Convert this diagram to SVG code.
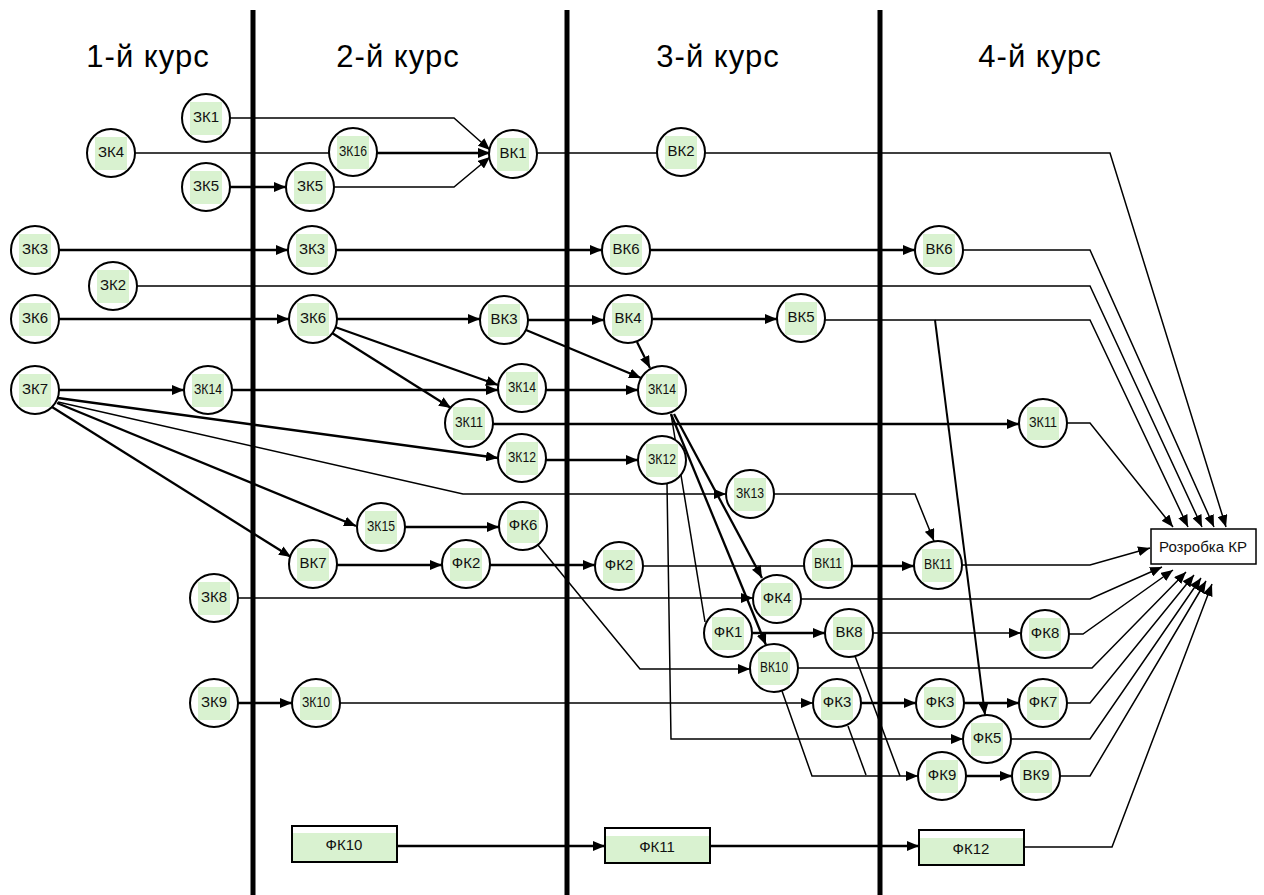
<svg xmlns="http://www.w3.org/2000/svg" width="1264" height="895" viewBox="0 0 1264 895">
<defs>
<marker id="ah" markerUnits="userSpaceOnUse" markerWidth="12" markerHeight="10" refX="12" refY="5" orient="auto">
<path d="M0,0 L12,5 L0,10 z" fill="#000"/>
</marker>
<style>
.bg{fill:#fff}
.sep{stroke:#000;stroke-width:5}
.hdr{font-family:"Liberation Sans",Arial,sans-serif;font-size:31px;letter-spacing:1px;text-anchor:middle;fill:#000}
.e{fill:none;stroke:#000;stroke-width:1.5}
.t{stroke-width:2.3}
.a{marker-end:url(#ah)}
.nd circle{fill:#fff;stroke:#000;stroke-width:2}
.nd rect{fill:#d9f2d0}
.nd text{font-family:"Liberation Sans",Arial,sans-serif;font-size:15px;text-anchor:middle;fill:#111}
.bx .fr{fill:#fff;stroke:#000;stroke-width:2}
.bx .gr{fill:#d9f2d0}
.bx text{font-family:"Liberation Sans",Arial,sans-serif;font-size:15px;text-anchor:middle;fill:#111}
.kr rect{fill:#fff;stroke:#000;stroke-width:1.5}
.kr text{font-family:"Liberation Sans",Arial,sans-serif;font-size:15px;text-anchor:middle;fill:#111}
</style>
</defs>
<rect class="bg" x="0" y="0" width="1264" height="895"/>

<!-- year columns -->
<g id="columns">
<line class="sep" x1="253" y1="10" x2="253" y2="895"/>
<line class="sep" x1="567" y1="10" x2="567" y2="895"/>
<line class="sep" x1="880" y1="10" x2="880" y2="895"/>
<text class="hdr" x="148" y="67">1-й курс</text>
<text class="hdr" x="398" y="67">2-й курс</text>
<text class="hdr" x="718" y="67">3-й курс</text>
<text class="hdr" x="1040" y="67">4-й курс</text>
</g>

<g id="connectors">
<polyline class="e a" points="230,118 454,118 490,150"/>
<line class="e" x1="135" y1="153" x2="329" y2="153"/>
<line class="e t a" x1="377" y1="153" x2="490" y2="153"/>
<line class="e t a" x1="230" y1="187" x2="286" y2="187"/>
<polyline class="e a" points="334,187 454,187 490,157"/>
<line class="e" x1="537" y1="153" x2="657" y2="153"/>
<polyline class="e a" points="705,153 1110,153 1226,527"/>

<line class="e t a" x1="59" y1="250" x2="288" y2="250"/>
<line class="e t a" x1="336" y1="250" x2="602" y2="250"/>
<line class="e t a" x1="650" y1="250" x2="915" y2="250"/>
<polyline class="e a" points="963,250 1090,250 1214,527"/>
<polyline class="e a" points="137,286 1090,286 1202,527"/>

<line class="e t a" x1="59" y1="319" x2="289" y2="319"/>
<line class="e t a" x1="337" y1="319" x2="480" y2="319"/>
<line class="e t a" x1="335" y1="327" x2="498" y2="385"/>
<line class="e t a" x1="332" y1="333" x2="451" y2="408"/>
<line class="e t a" x1="528" y1="320" x2="604" y2="320"/>
<line class="e t a" x1="526" y1="330" x2="641" y2="378"/>
<line class="e t a" x1="637" y1="342" x2="650" y2="368"/>
<line class="e t a" x1="652" y1="319" x2="777" y2="319"/>
<polyline class="e a" points="825,320 1090,320 1188,527"/>
<line class="e a" x1="935" y1="320" x2="985" y2="715" style="stroke-width:2"/>

<line class="e t a" x1="59" y1="390" x2="184" y2="390"/>
<line class="e t a" x1="232" y1="390" x2="498" y2="390"/>
<line class="e t a" x1="546" y1="390" x2="638" y2="390"/>
<line class="e t a" x1="493" y1="424" x2="1019" y2="424"/>
<polyline class="e a" points="1067,423 1090,423 1173,527"/>

<line class="e t a" x1="58" y1="398" x2="498" y2="458"/>
<polyline class="e a" points="58,402 463,494 726,494"/>
<line class="e t a" x1="57" y1="403" x2="356" y2="526"/>
<line class="e t a" x1="52" y1="407" x2="291" y2="557"/>
<line class="e t a" x1="546" y1="460" x2="638" y2="460"/>

<line class="e" x1="671" y1="414" x2="705" y2="622"/>
<line class="e t a" x1="674" y1="414" x2="762" y2="578"/>
<line class="e t a" x1="671" y1="414" x2="766" y2="645"/>
<polyline class="e a" points="667,484 671,739 963,739"/>
<polyline class="e a" points="774,494 915,494 934,541"/>

<line class="e t a" x1="405" y1="527" x2="499" y2="527"/>
<line class="e t a" x1="337" y1="565" x2="442" y2="565"/>
<line class="e t a" x1="490" y1="565" x2="595" y2="565"/>
<polyline class="e a" points="538,545 640,669 750,669"/>
<line class="e" x1="643" y1="566" x2="804" y2="566"/>
<line class="e t a" x1="852" y1="566" x2="914" y2="566"/>
<polyline class="e a" points="962,565 1090,565 1150,548"/>

<line class="e a" x1="238" y1="598" x2="753" y2="598"/>
<polyline class="e a" points="801,599 1090,599 1162,567"/>
<line class="e t a" x1="752" y1="633" x2="825" y2="633"/>
<line class="e a" x1="873" y1="633" x2="1021" y2="633"/>
<polyline class="e a" points="1069,634 1083,634 1173,570"/>
<polyline class="e a" points="798,668 1092,668 1186,572"/>

<polyline class="e" points="855,656 900,776"/>
<polyline class="e a" points="782,691 812,776 918,776"/>
<line class="e" x1="848" y1="726" x2="866" y2="775"/>

<line class="e t a" x1="238" y1="703" x2="292" y2="703"/>
<line class="e a" x1="340" y1="703" x2="813" y2="703"/>
<line class="e t a" x1="861" y1="703" x2="916" y2="703"/>
<line class="e t a" x1="964" y1="703" x2="1019" y2="703"/>
<polyline class="e a" points="1067,703 1090,703 1194,575"/>
<polyline class="e a" points="1011,739 1090,739 1201,578"/>
<line class="e t a" x1="966" y1="776" x2="1012" y2="776"/>
<polyline class="e a" points="1060,776 1090,776 1206,581"/>

<line class="e t a" x1="397" y1="846" x2="605" y2="846"/>
<line class="e t a" x1="710" y1="846" x2="919" y2="846"/>
<polyline class="e a" points="1024,847 1112,847 1212,584"/>
</g>

<!-- 1st year -->
<g id="zk1-1" class="nd"><circle cx="206" cy="118" r="24"/><rect x="190" y="102" width="32" height="33"/><text x="206" y="122">ЗК1</text></g>
<g id="zk4-1" class="nd"><circle cx="111" cy="153" r="24"/><rect x="95" y="137" width="32" height="33"/><text x="111" y="157">ЗК4</text></g>
<g id="zk5-1" class="nd"><circle cx="206" cy="187" r="24"/><rect x="190" y="171" width="32" height="33"/><text x="206" y="191">ЗК5</text></g>
<g id="zk3-1" class="nd"><circle cx="35" cy="250" r="24"/><rect x="19" y="234" width="32" height="33"/><text x="35" y="254">ЗК3</text></g>
<g id="zk2-1" class="nd"><circle cx="113" cy="286" r="24"/><rect x="97" y="270" width="32" height="33"/><text x="113" y="290">ЗК2</text></g>
<g id="zk6-1" class="nd"><circle cx="35" cy="319" r="24"/><rect x="19" y="303" width="32" height="33"/><text x="35" y="323">ЗК6</text></g>
<g id="zk7-1" class="nd"><circle cx="35" cy="390" r="24"/><rect x="19" y="374" width="32" height="33"/><text x="35" y="394">ЗК7</text></g>
<g id="zk14-1" class="nd"><circle cx="208" cy="390" r="24"/><rect x="192" y="374" width="32" height="33"/><text x="208" y="394" textLength="28" lengthAdjust="spacingAndGlyphs">ЗК14</text></g>
<g id="zk8-1" class="nd"><circle cx="214" cy="598" r="24"/><rect x="198" y="582" width="32" height="33"/><text x="214" y="602">ЗК8</text></g>
<g id="zk9-1" class="nd"><circle cx="214" cy="703" r="24"/><rect x="198" y="687" width="32" height="33"/><text x="214" y="707">ЗК9</text></g>

<!-- 2nd year -->
<g id="zk16-2" class="nd"><circle cx="353" cy="152" r="24"/><rect x="337" y="136" width="32" height="33"/><text x="353" y="156" textLength="28" lengthAdjust="spacingAndGlyphs">ЗК16</text></g>
<g id="zk5-2" class="nd"><circle cx="310" cy="187" r="24"/><rect x="294" y="171" width="32" height="33"/><text x="310" y="191">ЗК5</text></g>
<g id="vk1-2" class="nd"><circle cx="513" cy="154" r="24"/><rect x="497" y="138" width="32" height="33"/><text x="513" y="158">ВК1</text></g>
<g id="zk3-2" class="nd"><circle cx="312" cy="250" r="24"/><rect x="296" y="234" width="32" height="33"/><text x="312" y="254">ЗК3</text></g>
<g id="zk6-2" class="nd"><circle cx="313" cy="319" r="24"/><rect x="297" y="303" width="32" height="33"/><text x="313" y="323">ЗК6</text></g>
<g id="vk3-2" class="nd"><circle cx="504" cy="320" r="24"/><rect x="488" y="304" width="32" height="33"/><text x="504" y="324">ВК3</text></g>
<g id="zk14-2" class="nd"><circle cx="522" cy="388" r="24"/><rect x="506" y="372" width="32" height="33"/><text x="522" y="392" textLength="28" lengthAdjust="spacingAndGlyphs">ЗК14</text></g>
<g id="zk11-2" class="nd"><circle cx="469" cy="423" r="24"/><rect x="453" y="407" width="32" height="33"/><text x="469" y="427" textLength="28" lengthAdjust="spacingAndGlyphs">ЗК11</text></g>
<g id="zk12-2" class="nd"><circle cx="522" cy="458" r="24"/><rect x="506" y="442" width="32" height="33"/><text x="522" y="462" textLength="28" lengthAdjust="spacingAndGlyphs">ЗК12</text></g>
<g id="zk15-2" class="nd"><circle cx="381" cy="527" r="24"/><rect x="365" y="511" width="32" height="33"/><text x="381" y="531" textLength="28" lengthAdjust="spacingAndGlyphs">ЗК15</text></g>
<g id="fk6-2" class="nd"><circle cx="523" cy="526" r="24"/><rect x="507" y="510" width="32" height="33"/><text x="523" y="530">ФК6</text></g>
<g id="vk7-2" class="nd"><circle cx="313" cy="564" r="24"/><rect x="297" y="548" width="32" height="33"/><text x="313" y="568">ВК7</text></g>
<g id="fk2-2" class="nd"><circle cx="466" cy="564" r="24"/><rect x="450" y="548" width="32" height="33"/><text x="466" y="568">ФК2</text></g>
<g id="zk10-2" class="nd"><circle cx="316" cy="703" r="24"/><rect x="300" y="687" width="32" height="33"/><text x="316" y="707" textLength="28" lengthAdjust="spacingAndGlyphs">ЗК10</text></g>

<!-- 3rd year -->
<g id="vk2-3" class="nd"><circle cx="681" cy="152" r="24"/><rect x="665" y="136" width="32" height="33"/><text x="681" y="156">ВК2</text></g>
<g id="vk6-3" class="nd"><circle cx="626" cy="250" r="24"/><rect x="610" y="234" width="32" height="33"/><text x="626" y="254">ВК6</text></g>
<g id="vk4-3" class="nd"><circle cx="628" cy="319" r="24"/><rect x="612" y="303" width="32" height="33"/><text x="628" y="323">ВК4</text></g>
<g id="vk5-3" class="nd"><circle cx="801" cy="318" r="24"/><rect x="785" y="302" width="32" height="33"/><text x="801" y="322">ВК5</text></g>
<g id="zk14-3" class="nd"><circle cx="662" cy="390" r="24"/><rect x="646" y="374" width="32" height="33"/><text x="662" y="394" textLength="28" lengthAdjust="spacingAndGlyphs">ЗК14</text></g>
<g id="zk12-3" class="nd"><circle cx="662" cy="460" r="24"/><rect x="646" y="444" width="32" height="33"/><text x="662" y="464" textLength="28" lengthAdjust="spacingAndGlyphs">ЗК12</text></g>
<g id="zk13-3" class="nd"><circle cx="750" cy="494" r="24"/><rect x="734" y="478" width="32" height="33"/><text x="750" y="498" textLength="28" lengthAdjust="spacingAndGlyphs">ЗК13</text></g>
<g id="fk2-3" class="nd"><circle cx="619" cy="566" r="24"/><rect x="603" y="550" width="32" height="33"/><text x="619" y="570">ФК2</text></g>
<g id="vk11-3" class="nd"><circle cx="828" cy="564" r="24"/><rect x="812" y="548" width="32" height="33"/><text x="828" y="568" textLength="28" lengthAdjust="spacingAndGlyphs">ВК11</text></g>
<g id="fk4-3" class="nd"><circle cx="777" cy="599" r="24"/><rect x="761" y="583" width="32" height="33"/><text x="777" y="603">ФК4</text></g>
<g id="fk1-3" class="nd"><circle cx="728" cy="633" r="24"/><rect x="712" y="617" width="32" height="33"/><text x="728" y="637">ФК1</text></g>
<g id="vk8-3" class="nd"><circle cx="849" cy="633" r="24"/><rect x="833" y="617" width="32" height="33"/><text x="849" y="637">ВК8</text></g>
<g id="vk10-3" class="nd"><circle cx="774" cy="668" r="24"/><rect x="758" y="652" width="32" height="33"/><text x="774" y="672" textLength="28" lengthAdjust="spacingAndGlyphs">ВК10</text></g>
<g id="fk3-3" class="nd"><circle cx="837" cy="703" r="24"/><rect x="821" y="687" width="32" height="33"/><text x="837" y="707">ФК3</text></g>

<!-- 4th year -->
<g id="vk6-4" class="nd"><circle cx="939" cy="250" r="24"/><rect x="923" y="234" width="32" height="33"/><text x="939" y="254">ВК6</text></g>
<g id="zk11-4" class="nd"><circle cx="1043" cy="423" r="24"/><rect x="1027" y="407" width="32" height="33"/><text x="1043" y="427" textLength="28" lengthAdjust="spacingAndGlyphs">ЗК11</text></g>
<g id="vk11-4" class="nd"><circle cx="938" cy="565" r="24"/><rect x="922" y="549" width="32" height="33"/><text x="938" y="569" textLength="28" lengthAdjust="spacingAndGlyphs">ВК11</text></g>
<g id="fk8-4" class="nd"><circle cx="1045" cy="634" r="24"/><rect x="1029" y="618" width="32" height="33"/><text x="1045" y="638">ФК8</text></g>
<g id="fk3-4" class="nd"><circle cx="940" cy="703" r="24"/><rect x="924" y="687" width="32" height="33"/><text x="940" y="707">ФК3</text></g>
<g id="fk7-4" class="nd"><circle cx="1043" cy="703" r="24"/><rect x="1027" y="687" width="32" height="33"/><text x="1043" y="707">ФК7</text></g>
<g id="fk5-4" class="nd"><circle cx="987" cy="739" r="24"/><rect x="971" y="723" width="32" height="33"/><text x="987" y="743">ФК5</text></g>
<g id="fk9-4" class="nd"><circle cx="942" cy="776" r="24"/><rect x="926" y="760" width="32" height="33"/><text x="942" y="780">ФК9</text></g>
<g id="vk9-4" class="nd"><circle cx="1036" cy="776" r="24"/><rect x="1020" y="760" width="32" height="33"/><text x="1036" y="780">ВК9</text></g>

<!-- boxed practice components -->
<g id="fk10" class="bx"><rect class="fr" x="292" y="826" width="105" height="36"/><rect class="gr" x="293" y="833" width="103" height="28"/><text x="344" y="850">ФК10</text></g>
<g id="fk11" class="bx"><rect class="fr" x="605" y="828" width="105" height="35"/><rect class="gr" x="606" y="836" width="103" height="26"/><text x="657" y="852">ФК11</text></g>
<g id="fk12" class="bx"><rect class="fr" x="919" y="830" width="105" height="35"/><rect class="gr" x="920" y="838" width="103" height="26"/><text x="971" y="854">ФК12</text></g>

<g id="kr" class="kr"><rect x="1151" y="529" width="105" height="35"/><text x="1203" y="552">Розробка КР</text></g>
</svg>
